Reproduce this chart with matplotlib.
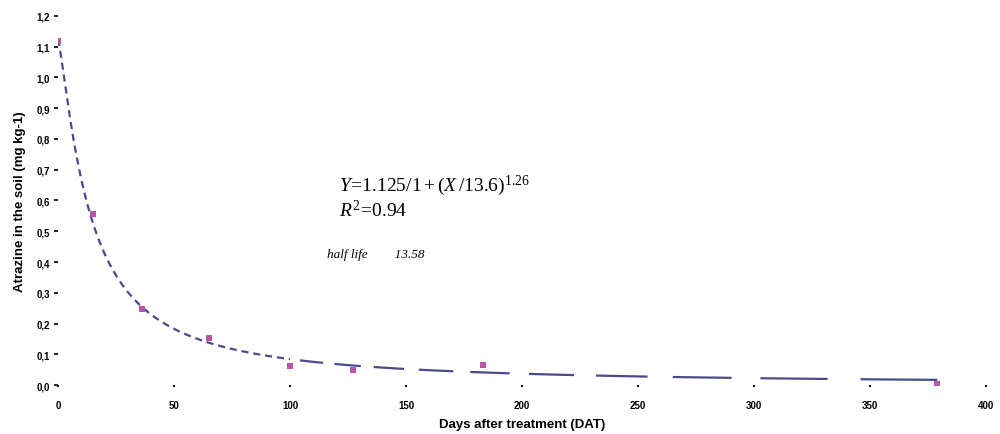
import numpy as np
import matplotlib
matplotlib.use('Agg')
import matplotlib.pyplot as plt

# measured atrazine residues
days = [0, 15, 36, 65, 100, 127, 183, 379]
atrazine = [1.12, 0.555, 0.247, 0.153, 0.062, 0.049, 0.065, 0.003]

# fitted log-logistic decay: Y = a / (1 + (X / b)^c)
fit_a, fit_b, fit_c = 1.125, 13.6, 1.26
r_squared = 0.94
half_life = 13.58

y_ticks = [0.0, 0.1, 0.2, 0.3, 0.4, 0.5, 0.6, 0.7, 0.8, 0.9, 1.0, 1.1, 1.2]
x_ticks = [0, 50, 100, 150, 200, 250, 300, 350, 400]


def fit_curve(x):
    return fit_a / (1 + (np.asarray(x) / fit_b) ** fit_c)


plt.rcParams['font.family'] = ['Liberation Sans', 'DejaVu Sans']
plt.rcParams['mathtext.fontset'] = 'custom'
plt.rcParams['mathtext.rm'] = 'Liberation Serif'
plt.rcParams['mathtext.it'] = 'Liberation Serif:italic'

line_col = '#4b4b8c'
point_col = '#bb55aa'

fig = plt.figure(figsize=(10, 4.35), dpi=100)
ax = fig.add_axes([0.058, 0.1126, 0.928, 0.8484])

# steep part of the fit: short dashes
xs = np.linspace(0, 100, 400)
ax.plot(xs, fit_curve(xs), color=line_col, lw=1.6, dashes=(3.2, 2.2))

# flat tail: dashes that lengthen with time
edges = 100 * (days[-1] / 100) ** (np.arange(11) / 10)
for lo, hi in zip(edges[:-1], edges[1:]):
    seg = np.linspace(lo + 0.3 * (hi - lo), hi, 30)
    ax.plot(seg, fit_curve(seg), color=line_col, lw=1.6, solid_capstyle='butt')

ax.scatter(days, atrazine, marker='s', s=22, color=point_col, zorder=3, linewidths=0)

ax.set_xlim(0, 400)
ax.set_ylim(0, 1.2)
for s in ax.spines.values():
    s.set_visible(False)

ax.set_yticks(y_ticks)
ax.set_yticklabels([f'{v:.1f}'.replace('.', ',') for v in y_ticks])
ax.set_xticks(x_ticks)
ax.set_xticklabels([str(v) for v in x_ticks])
ax.tick_params(axis='y', length=3, width=1.2, pad=3, labelsize=7)
ax.tick_params(axis='x', length=1.5, width=1.5, pad=9, labelsize=7)
for lab in ax.get_xticklabels() + ax.get_yticklabels():
    lab.set_fontweight('bold')

ax.set_ylabel('Atrazine in the soil (mg kg-1)', fontsize=9.5, fontweight='bold', labelpad=7)
ax.set_xlabel('Days after treatment (DAT)', fontsize=9.5, fontweight='bold', labelpad=6)

ax.text(121, 0.635, r'$Y\!=\!1.125/1+(X\,/13.6)^{1.26}$', fontsize=14)
ax.text(121, 0.55, rf'$R^2\!=\!{r_squared}$', fontsize=14)
ax.text(116, 0.415, f'half life        {half_life}', fontsize=9.5,
        family='Liberation Serif', style='italic')

fig.savefig('out.png', dpi=100, facecolor='white')
